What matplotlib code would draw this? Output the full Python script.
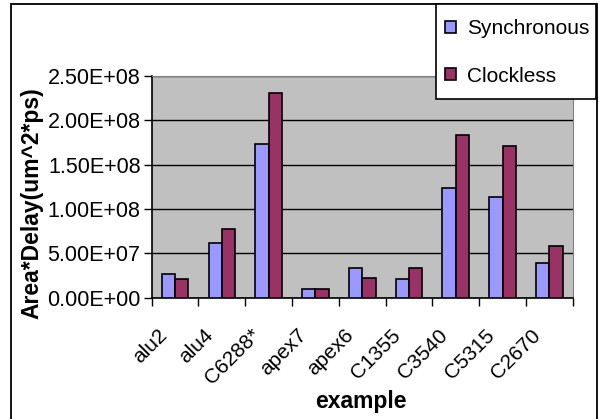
import matplotlib
matplotlib.use('Agg')
from matplotlib import pyplot as plt
from matplotlib.patches import Rectangle
from matplotlib.ticker import FixedLocator, FuncFormatter
import numpy as np

examples = ['alu2', 'alu4', 'C6288*', 'apex7', 'apex6', 'C1355', 'C3540', 'C5315', 'C2670']
synchronous = [2.63e7, 6.2e7, 1.73e8, 0.95e7, 3.38e7, 2.07e7, 1.24e8, 1.13e8, 3.95e7]
clockless = [2.07e7, 7.7e7, 2.31e8, 0.95e7, 2.26e7, 3.38e7, 1.84e8, 1.71e8, 5.83e7]
yticks = [0, 5e7, 1e8, 1.5e8, 2e8, 2.5e8]

def main():
	plt.rcParams['font.family'] = ['Liberation Sans', 'DejaVu Sans']
	W, H = 607, 419
	fig = plt.figure(figsize=(W/100, H/100), dpi=100)
	ax = fig.add_axes([151.7/W, 1-297.7/H, (572.7-151.7)/W, (297.7-76)/H])
	ax.set_facecolor('#C0C0C0')

	x = np.arange(len(examples))
	bw = 1/3.5
	ax.bar(x - bw/2, synchronous, bw, color='#9999FF', edgecolor='black',
		linewidth=1.2, label='Synchronous', zorder=3)
	ax.bar(x + bw/2, clockless, bw, color='#993366', edgecolor='black',
		linewidth=1.2, label='Clockless', zorder=3)

	ax.set_xlim(-0.5, len(examples)-0.5)
	ax.set_ylim(0, 2.5e8)
	ax.set_yticks(yticks)
	ax.yaxis.set_major_formatter(FuncFormatter(lambda v, p: '%.2E' % v))
	ax.grid(axis='y', color='black', linewidth=1, zorder=1)

	# ticks between categories, labels centred on categories
	ax.xaxis.set_major_locator(FixedLocator(np.arange(len(examples)+1) - 0.5))
	ax.xaxis.set_major_formatter(FuncFormatter(lambda v, p: ''))
	ax.xaxis.set_minor_locator(FixedLocator(x - 0.1))
	ax.set_xticklabels(examples, minor=True, rotation=45, ha='right', va='top')
	ax.tick_params(axis='x', which='minor', length=0, pad=20, labelsize=15)
	ax.tick_params(axis='x', which='major', length=6, width=1, direction='out')
	ax.tick_params(axis='y', length=6, width=1, direction='out', labelsize=15.5, pad=2)

	for s in ['top', 'right']:
		ax.spines[s].set_color('#808080')
	for s in ['left', 'bottom']:
		ax.spines[s].set_color('black')
		ax.spines[s].set_linewidth(1.2)

	fig.text(32/W, 1-203/H, 'Area*Delay(um^2*ps)', rotation=90, fontsize=16.5,
		fontweight='bold', ha='center', va='center')
	fig.text(361/W, 1-401/H, 'example', fontsize=16.5, fontweight='bold',
		ha='center', va='center')

	# chart border
	fig.patches.append(Rectangle((11/W, -0.05), (597-11)/W, 1.05-4.5/H,
		transform=fig.transFigure, fill=False, edgecolor='black', linewidth=1.3))

	# legend box drawn separately so its padding can match
	fig.patches.append(Rectangle((436/W, 1-99/H), (596-436)/W, (99-4.5)/H,
		transform=fig.transFigure, facecolor='white', edgecolor='black',
		linewidth=1.2, zorder=5))
	leg = fig.legend(loc='center', bbox_to_anchor=(517/W, 1-52.5/H),
		fontsize=15, frameon=False,
		handlelength=0.55, handleheight=0.55, handletextpad=0.5,
		labelspacing=1.35, borderpad=0, borderaxespad=0)
	leg.set_zorder(6)

	fig.savefig('out.png', dpi=100)

if __name__ == "__main__":
	main()
